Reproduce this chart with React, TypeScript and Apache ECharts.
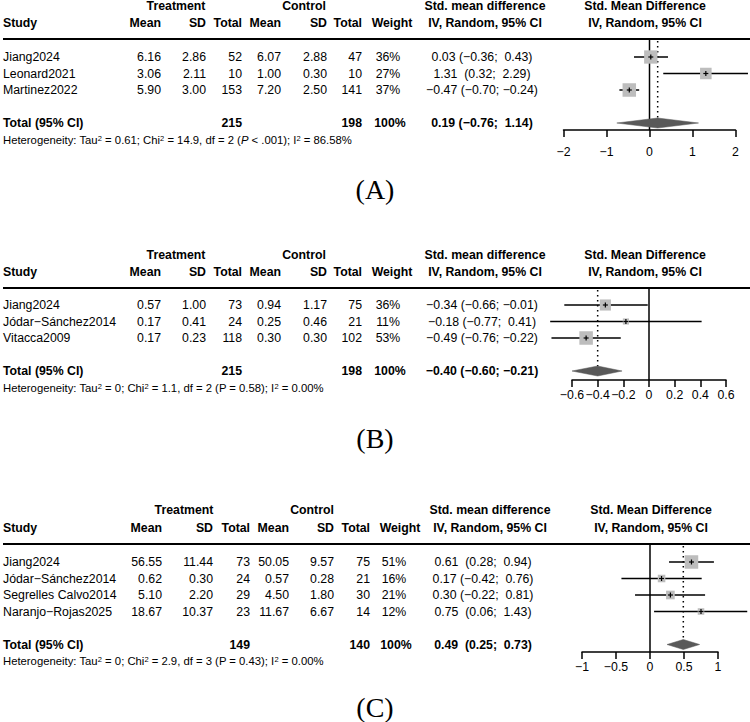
import React, { useEffect, useRef } from 'react';
import * as echarts from 'echarts';

// ---------- Panel A ----------
const studiesA = ['Jiang2024', 'Leonard2021', 'Martinez2022'];
const tMeanA = [6.16, 3.06, 5.9];
const tSdA = [2.86, 2.11, 3.0];
const tNA = [52, 10, 153];
const cMeanA = [6.07, 1.0, 7.2];
const cSdA = [2.88, 0.3, 2.5];
const cNA = [47, 10, 141];
const weightA = [36, 27, 37];
const smdA = [0.03, 1.31, -0.47];
const loA = [-0.36, 0.32, -0.7];
const hiA = [0.43, 2.29, -0.24];
const pooledA = [0.19, -0.76, 1.14];
const totalsA = [215, 198];
const ticksA = [-2, -1, 0, 1, 2];
const hetA = 'Heterogeneity: Tau{s|2} = 0.61; Chi{s|2} = 14.9, df = 2 ({i|P} < .001); I{s|2} = 86.58%';

// ---------- Panel B ----------
const studiesB = ['Jiang2024', 'J\u00f3dar\u2212S\u00e1nchez2014', 'Vitacca2009'];
const tMeanB = [0.57, 0.17, 0.17];
const tSdB = [1.0, 0.41, 0.23];
const tNB = [73, 24, 118];
const cMeanB = [0.94, 0.25, 0.3];
const cSdB = [1.17, 0.46, 0.3];
const cNB = [75, 21, 102];
const weightB = [36, 11, 53];
const smdB = [-0.34, -0.18, -0.49];
const loB = [-0.66, -0.77, -0.76];
const hiB = [-0.01, 0.41, -0.22];
const pooledB = [-0.4, -0.6, -0.21];
const totalsB = [215, 198];
const ticksB = [-0.6, -0.4, -0.2, 0, 0.2, 0.4, 0.6];
const hetB = 'Heterogeneity: Tau{s|2} = 0; Chi{s|2} = 1.1, df = 2 (P = 0.58); I{s|2} = 0.00%';

// ---------- Panel C ----------
const studiesC = ['Jiang2024', 'J\u00f3dar\u2212S\u00e1nchez2014', 'Segrelles Calvo2014', 'Naranjo\u2212Rojas2025'];
const tMeanC = [56.55, 0.62, 5.1, 18.67];
const tSdC = [11.44, 0.3, 2.2, 10.37];
const tNC = [73, 24, 29, 23];
const cMeanC = [50.05, 0.57, 4.5, 11.67];
const cSdC = [9.57, 0.28, 1.8, 6.67];
const cNC = [75, 21, 30, 14];
const weightC = [51, 16, 21, 12];
const smdC = [0.61, 0.17, 0.3, 0.75];
const loC = [0.28, -0.42, -0.22, 0.06];
const hiC = [0.94, 0.76, 0.81, 1.43];
const pooledC = [0.49, 0.25, 0.73];
const totalsC = [149, 140];
const ticksC = [-1, -0.5, 0, 0.5, 1];
const hetC = 'Heterogeneity: Tau{s|2} = 0; Chi{s|2} = 2.9, df = 3 (P = 0.43); I{s|2} = 0.00%';

const panelLabels = ['(A)', '(B)', '(C)'];

// ---------- styling / layout ----------
const FONT = '"Liberation Sans", Arial, Helvetica, sans-serif';
const SERIF = '"Liberation Serif", "Times New Roman", serif';
const FS = 12.3;
const HET_FS = 11.3;
const SQUARE_MAX = 13.5;
const SQUARE_FILL = '#bdbdbd';
const DIAMOND_FILL = '#595959';

type Cols = {
  mean: number; sd: number; total: number; cMean: number; cSd: number; cTotal: number;
  weight: number; weightVal: number; smd: number; smdHead: number; plotHead: number; treat: number; ctrl: number;
};
type Layout = {
  x0: number; x1: number; headY: number; colY: number; lineY: number; rowY: number; step: number;
  axisY: number; axisMargin: number; labelY: number; cols: Cols;
};

const colsAB: Cols = {
  mean: 161, sd: 206, total: 242, cMean: 281, cSd: 327, cTotal: 362,
  weight: 392, weightVal: 388, smd: 482, smdHead: 485, plotHead: 645, treat: 176, ctrl: 304,
};
const colsC: Cols = {
  mean: 162, sd: 213, total: 250, cMean: 289, cSd: 334, cTotal: 370,
  weight: 400, weightVal: 394, smd: 483, smdHead: 490, plotHead: 651, treat: 184, ctrl: 312,
};

const layoutA: Layout = { x0: 563.5, x1: 735.5, headY: 6, colY: 23, lineY: 39, rowY: 57, step: 16.5, axisY: 130, axisMargin: 16, labelY: 189, cols: colsAB };
const layoutB: Layout = { x0: 572, x1: 726, headY: 255, colY: 272, lineY: 288, rowY: 305, step: 16.5, axisY: 380, axisMargin: 9, labelY: 438, cols: colsAB };
const layoutC: Layout = { x0: 582, x1: 718, headY: 510, colY: 528, lineY: 544, rowY: 562, step: 16.5, axisY: 652, axisMargin: 9, labelY: 707, cols: colsC };

type Panel = {
  studies: string[]; tMean: number[]; tSd: number[]; tN: number[]; cMean: number[]; cSd: number[]; cN: number[];
  weight: number[]; smd: number[]; lo: number[]; hi: number[]; pooled: number[]; totals: number[]; ticks: number[];
  het: string; label: string; L: Layout;
};

const panels: Panel[] = [
  { studies: studiesA, tMean: tMeanA, tSd: tSdA, tN: tNA, cMean: cMeanA, cSd: cSdA, cN: cNA, weight: weightA, smd: smdA, lo: loA, hi: hiA, pooled: pooledA, totals: totalsA, ticks: ticksA, het: hetA, label: panelLabels[0], L: layoutA },
  { studies: studiesB, tMean: tMeanB, tSd: tSdB, tN: tNB, cMean: cMeanB, cSd: cSdB, cN: cNB, weight: weightB, smd: smdB, lo: loB, hi: hiB, pooled: pooledB, totals: totalsB, ticks: ticksB, het: hetB, label: panelLabels[1], L: layoutB },
  { studies: studiesC, tMean: tMeanC, tSd: tSdC, tN: tNC, cMean: cMeanC, cSd: cSdC, cN: cNC, weight: weightC, smd: smdC, lo: loC, hi: hiC, pooled: pooledC, totals: totalsC, ticks: ticksC, het: hetC, label: panelLabels[2], L: layoutC },
];

const fmt = (v: number) => v.toFixed(2).replace('-', '\u2212');
const fmtTick = (v: number) => String(+v.toFixed(2)).replace('-', '\u2212');
const ciText = (e: number, lo: number, hi: number) =>
  `${fmt(e)}${lo >= 0 ? '  ' : ' '}(${fmt(lo)};${hi >= 0 ? '  ' : ' '}${fmt(hi)})`;

function txt(x: number, y: number, text: string, align: string, bold = false, extra: any = {}) {
  return {
    type: 'text',
    x,
    y,
    silent: true,
    style: {
      text,
      fill: '#000',
      fontFamily: FONT,
      fontSize: FS,
      fontWeight: bold ? 'bold' : 'normal',
      textAlign: align,
      textVerticalAlign: 'middle',
      align,
      verticalAlign: 'middle',
      ...extra,
    },
  };
}

function buildOption() {
  const grid: any[] = [];
  const xAxis: any[] = [];
  const yAxis: any[] = [];
  const series: any[] = [];
  const elements: any[] = [];

  panels.forEach((p, i) => {
    const L = p.L;
    const C = L.cols;
    const n = p.studies.length;
    const totalRow = n + 1;
    const yMin = (L.lineY - L.rowY) / L.step;
    const yMax = (L.axisY - L.rowY) / L.step;
    const maxW = Math.max(...p.weight);

    grid.push({ left: L.x0, top: L.lineY, width: L.x1 - L.x0, height: L.axisY - L.lineY });
    xAxis.push({
      type: 'value',
      gridIndex: i,
      min: p.ticks[0],
      max: p.ticks[p.ticks.length - 1],
      interval: +(p.ticks[1] - p.ticks[0]).toFixed(4),
      position: 'bottom',
      axisLine: { show: true, onZero: false, lineStyle: { color: '#000', width: 1.5 } },
      axisTick: { show: true, length: 7, lineStyle: { color: '#000', width: 1.5 } },
      axisLabel: { margin: L.axisMargin, color: '#000', fontSize: FS, fontFamily: FONT, formatter: (v: number) => fmtTick(v) },
      splitLine: { show: false },
    });
    yAxis.push({ type: 'value', gridIndex: i, min: yMin, max: yMax, inverse: true, show: false, splitLine: { show: false } });

    // reference lines: solid at 0, dotted at pooled estimate
    series.push({
      type: 'custom',
      xAxisIndex: i,
      yAxisIndex: i,
      clip: false,
      silent: true,
      encode: { x: 0, y: [1, 2] },
      data: [
        [0, yMin, yMax, 0],
        [p.pooled[0], yMin, totalRow, 1],
      ],
      renderItem: (_params: any, api: any) => {
        const x = api.value(0);
        const a = api.coord([x, api.value(1)]);
        const b = api.coord([x, api.value(2)]);
        const dotted = api.value(3) === 1;
        return {
          type: 'line',
          shape: { x1: a[0], y1: dotted ? a[1] + 2 : a[1], x2: b[0], y2: dotted ? b[1] - 5 : b[1] },
          style: dotted
            ? { stroke: '#000', lineWidth: 1.5, lineDash: [1.5, 3.5] }
            : { stroke: '#000', lineWidth: 1.5 },
        };
      },
    });

    // study estimates
    series.push({
      type: 'custom',
      xAxisIndex: i,
      yAxisIndex: i,
      clip: false,
      silent: true,
      encode: { x: [0, 1, 2], y: 3 },
      data: p.smd.map((e, k) => [e, p.lo[k], p.hi[k], k, p.weight[k]]),
      renderItem: (_params: any, api: any) => {
        const row = api.value(3);
        const pe = api.coord([api.value(0), row]);
        const pl = api.coord([api.value(1), row]);
        const ph = api.coord([api.value(2), row]);
        const s = SQUARE_MAX * Math.sqrt(api.value(4) / maxW);
        return {
          type: 'group',
          children: [
            { type: 'line', shape: { x1: pl[0], y1: pl[1], x2: ph[0], y2: ph[1] }, style: { stroke: '#000', lineWidth: 1.5 } },
            { type: 'rect', shape: { x: pe[0] - s / 2, y: pe[1] - s / 2, width: s, height: s }, style: { fill: SQUARE_FILL } },
            { type: 'line', shape: { x1: pe[0] - 2.5, y1: pe[1], x2: pe[0] + 2.5, y2: pe[1] }, style: { stroke: '#000', lineWidth: 1.2 } },
            { type: 'line', shape: { x1: pe[0], y1: pe[1] - 2.5, x2: pe[0], y2: pe[1] + 2.5 }, style: { stroke: '#000', lineWidth: 1.2 } },
          ],
        };
      },
    });

    // pooled diamond
    series.push({
      type: 'custom',
      xAxisIndex: i,
      yAxisIndex: i,
      clip: false,
      silent: true,
      encode: { x: [0, 1, 2], y: 3 },
      data: [[p.pooled[0], p.pooled[1], p.pooled[2], totalRow]],
      renderItem: (_params: any, api: any) => {
        const row = api.value(3);
        const pe = api.coord([api.value(0), row]);
        const pl = api.coord([api.value(1), row]);
        const ph = api.coord([api.value(2), row]);
        const h = 5;
        return {
          type: 'polygon',
          shape: { points: [[pl[0], pl[1]], [pe[0], pe[1] - h], [ph[0], ph[1]], [pe[0], pe[1] + h]] },
          style: { fill: DIAMOND_FILL, stroke: DIAMOND_FILL, lineWidth: 0.5 },
        };
      },
    });

    // ---------- table texts ----------
    elements.push(txt(C.treat, L.headY, 'Treatment', 'center', true));
    elements.push(txt(C.ctrl, L.headY, 'Control', 'center', true));
    elements.push(txt(C.smdHead, L.headY, 'Std. mean difference', 'center', true));
    elements.push(txt(C.smdHead, L.colY, 'IV, Random, 95% CI', 'center', true));
    elements.push(txt(C.plotHead, L.headY, 'Std. Mean Difference', 'center', true));
    elements.push(txt(C.plotHead, L.colY, 'IV, Random, 95% CI', 'center', true));
    elements.push(txt(3, L.colY, 'Study', 'left', true));
    elements.push(txt(C.mean, L.colY, 'Mean', 'right', true));
    elements.push(txt(C.sd, L.colY, 'SD', 'right', true));
    elements.push(txt(C.total, L.colY, 'Total', 'right', true));
    elements.push(txt(C.cMean, L.colY, 'Mean', 'right', true));
    elements.push(txt(C.cSd, L.colY, 'SD', 'right', true));
    elements.push(txt(C.cTotal, L.colY, 'Total', 'right', true));
    elements.push(txt(C.weight, L.colY, 'Weight', 'center', true));

    elements.push({
      type: 'line',
      silent: true,
      shape: { x1: 3, y1: L.lineY, x2: 750, y2: L.lineY },
      style: { stroke: '#000', lineWidth: 2 },
    });

    p.studies.forEach((name, k) => {
      const y = L.rowY + k * L.step;
      elements.push(txt(3, y, name, 'left'));
      elements.push(txt(C.mean, y, fmt(p.tMean[k]), 'right'));
      elements.push(txt(C.sd, y, fmt(p.tSd[k]), 'right'));
      elements.push(txt(C.total, y, String(p.tN[k]), 'right'));
      elements.push(txt(C.cMean, y, fmt(p.cMean[k]), 'right'));
      elements.push(txt(C.cSd, y, fmt(p.cSd[k]), 'right'));
      elements.push(txt(C.cTotal, y, String(p.cN[k]), 'right'));
      elements.push(txt(C.weightVal, y, `${p.weight[k]}%`, 'center'));
      elements.push(txt(C.smd, y, ciText(p.smd[k], p.lo[k], p.hi[k]), 'center'));
    });

    const ty = L.rowY + totalRow * L.step;
    elements.push(txt(3, ty, 'Total (95% CI)', 'left', true));
    elements.push(txt(C.total, ty, String(p.totals[0]), 'right', true));
    elements.push(txt(C.cTotal, ty, String(p.totals[1]), 'right', true));
    elements.push(txt(C.weightVal + 2, ty, '100%', 'center', true));
    elements.push(txt(C.smd, ty, ciText(p.pooled[0], p.pooled[1], p.pooled[2]), 'center', true));

    elements.push(
      txt(3, ty + L.step, p.het, 'left', false, {
        fontSize: HET_FS,
        rich: {
          s: { fontSize: 7.5, fontFamily: FONT, fill: '#000', verticalAlign: 'top' },
          i: { fontSize: HET_FS, fontFamily: FONT, fill: '#000', fontStyle: 'italic' },
        },
      })
    );

    elements.push({
      type: 'text',
      x: 375,
      y: L.labelY,
      silent: true,
      style: {
        text: p.label,
        fill: '#000',
        fontFamily: SERIF,
        fontSize: 28,
        textAlign: 'center',
        textVerticalAlign: 'middle',
        align: 'center',
        verticalAlign: 'middle',
      },
    });
  });

  return {
    animation: false,
    backgroundColor: '#fff',
    grid,
    xAxis,
    yAxis,
    series,
    graphic: { elements },
  };
}

export default function App() {
  const ref = useRef<HTMLDivElement>(null);
  useEffect(() => {
    if (!ref.current) return;
    const chart = echarts.init(ref.current, null, { renderer: 'svg' });
    chart.setOption(buildOption() as any);
    return () => chart.dispose();
  }, []);
  return (
    <div
      ref={ref}
      style={{ position: 'absolute', left: 0, top: 0, width: 750, height: 722, background: '#fff' }}
    />
  );
}
